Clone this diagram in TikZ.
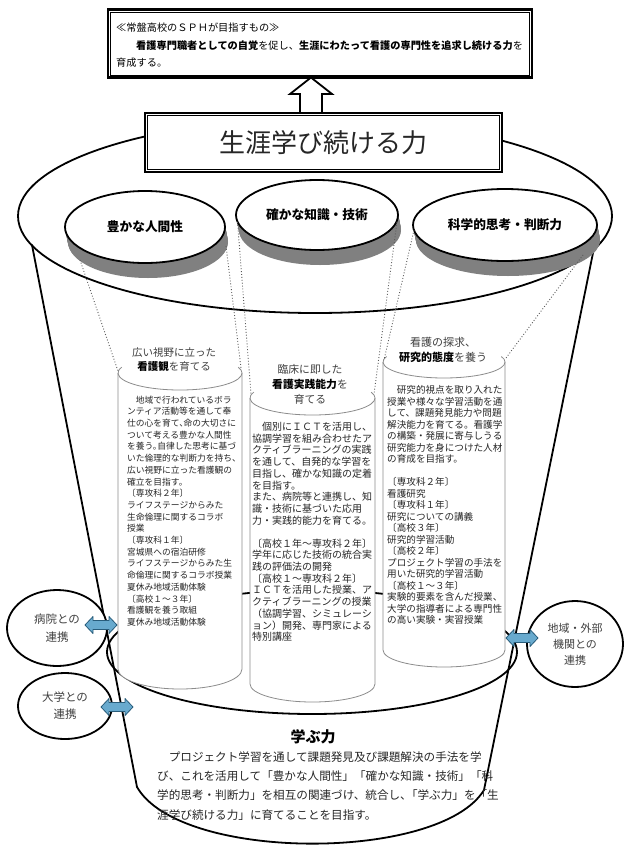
\documentclass[tikz,border=0pt]{standalone}
\usepackage{fontspec}
\setmainfont{Noto Sans CJK JP}
\usetikzlibrary{shapes.geometric}
\newcommand\hk{\kern-.5em}
\newcommand\fs[2]{\fontsize{#1}{#2}\selectfont}
\definecolor{arrowblue}{RGB}{104,170,206}
\definecolor{arrowedge}{RGB}{40,92,122}
\begin{document}
\begin{tikzpicture}[x=1pt,y=1pt,yscale=-1,
  bk/.style={line width=1.8pt, line join=round, line cap=round},
  cyl/.style={draw=black!45, line width=0.8pt, fill=white},
  cyltop/.style={draw=black!45, line width=0.8pt},
  dots/.style={dotted, line width=0.9pt, black!65},
  body/.style={inner sep=0pt, align=left, anchor=north west, text=black!85},
  head/.style={inner sep=0pt, align=center, text=black!75},
  smallell/.style={ellipse, draw, line width=1.8pt, fill=white, inner sep=0pt, font=\bfseries\fs{12.7}{15}},
  sidecirc/.style={ellipse, draw, line width=1.8pt, fill=white, inner sep=0pt, align=center, text=black!75},
  arrowst/.style={fill=arrowblue, draw=arrowedge, line width=0.8pt, line join=round},
  dblarr/.pic={\draw[arrowst] (-16,0) -- (-8,-8.5) -- (-8,-4.5) -- (8,-4.5) -- (8,-8.5) -- (16,0) -- (8,8.5) -- (8,4.5) -- (-8,4.5) -- (-8,8.5) -- cycle;}
]
\fill[white] (0,0) rectangle (626,846);
\useasboundingbox (0,0) rectangle (626,846);

% bucket
\draw[bk, fill=white] (315,216) ellipse[x radius=297, y radius=97];
\draw[bk] (32,245) -- (137,787) .. controls (180,862) and (440,862) .. (484,790) -- (594,248);

% top box
\node[draw, line width=2.2pt, fill=white, minimum width=424pt, minimum height=68pt, inner sep=0pt] (topbox) at (320,43.5) {};
\draw[line width=0.7pt] ([shift={(3.5,3.5)}]topbox.north west) rectangle ([shift={(-3.5,-3.5)}]topbox.south east);
\node[body, font=\fs{10.2}{17.5}, text=black] (toptext) at (116,22.9)
 {≪常盤高校のＳＰＨが目指すもの≫\\\hspace*{20pt}{\bfseries 看護専門職者としての自覚}を促し、{\bfseries 生涯にわたって看護の専門性を追求し続ける力}を\\育成する。};

% title box
\node[draw, line width=2.4pt, fill=white, minimum width=357pt, minimum height=59pt, inner sep=0pt, font=\fs{26}{30}, text=black!85] (title) at (323.5,142.5) {生涯学び続ける力};
\draw[line width=0.7pt] ([shift={(4,4)}]title.north west) rectangle ([shift={(-4,-4)}]title.south east);

% up arrow
\draw[line width=1.8pt, fill=white, line join=miter] (title.north -| 300,0) -- (300,94) -- (290,94) -- (311,77.5) -- (332,94) -- (322,94) -- (title.north -| 322,0);

% small ellipses with shadows
\foreach \d in {1,...,15}{
  \fill[black!50] ({145+0.2*\d},{227+\d}) ellipse[x radius=80, y radius=36];
  \fill[black!50] ({317+0.2*\d},{215+\d}) ellipse[x radius=81, y radius=35];
  \fill[black!50] ({505+0.2*\d},{225+\d}) ellipse[x radius=92, y radius=36];
}
\node[smallell, minimum width=160pt, minimum height=72pt] (eL) at (145,227) {豊かな人間性};
\node[smallell, minimum width=162pt, minimum height=70pt] (eM) at (317,215) {確かな知識・技術};
\node[smallell, minimum width=184pt, minimum height=72pt] (eR) at (505,225) {科学的思考・判断力};

% disc of 学ぶ力
\draw[bk] (312,652) ellipse[x radius=205, y radius=62];

% cylinders
\path[cyl] (118,373) -- (118,669) arc[start angle=180, end angle=0, x radius=62, y radius=20] -- (242,373);
\draw[cyltop] ([shift={(200:62 and 17)}]180,373) arc[start angle=200, end angle=-20, x radius=62, y radius=17];
\path[cyl] (250,398) -- (250,684) arc[start angle=180, end angle=0, x radius=62.5, y radius=18] -- (375,398);
\draw[cyltop] ([shift={(200:62.5 and 17)}]312.5,398) arc[start angle=200, end angle=-20, x radius=62.5, y radius=17];
\path[cyl] (383,362) -- (383,650) arc[start angle=180, end angle=0, x radius=61, y radius=17] -- (505,362);
\draw[cyltop] ([shift={(200:61 and 16)}]444,362) arc[start angle=200, end angle=-20, x radius=61, y radius=16];

% dotted projection lines
\coordinate (L1a) at (80,260); \coordinate (L1b) at (118,371);
\coordinate (L2a) at (226,246); \coordinate (L2b) at (241,368);
\coordinate (M1a) at (237.5,222); \coordinate (M1b) at (251,394);
\coordinate (M2a) at (397,222); \coordinate (M2b) at (374,394);
\coordinate (R1a) at (414,230); \coordinate (R1b) at (384,360);
\coordinate (R2a) at (583,255); \coordinate (R2b) at (506,358);
\draw[dots] (L1a) -- (L1b);
\draw[dots] (L2a) -- (L2b);
\draw[dots] (M1a) -- (M1b);
\draw[dots] (M2a) -- (M2b);
\draw[dots] (R1a) -- (R1b);
\draw[dots] (R2a) -- (R2b);

% headings
\node[head, font=\fs{10.5}{14}] (hL) at (174,360) {広い視野に立った\\{\bfseries\color{black}看護観}を育てる};
\node[head, font=\fs{10.8}{15}] (hM) at (310,384) {臨床に即した\\{\bfseries\color{black}看護実践能力}を\\育てる};
\node[head, font=\fs{11}{15}] (hR) at (443,349.5) {看護の探求、\\{\bfseries\color{black}研究的態度}を養う};

% body texts
\node[body, font=\fs{8.75}{11.7}] (tL) at (127,395.6)
 {　地域で行われているボラ\\ンティア活動等を通して奉\\仕の心を育て、\hk 命の大切さに\\ついて考える豊かな人間性\\を養う。\hk 自律した思考に基づ\\いた倫理的な判断力を持ち、\\広い視野に立った看護観の\\確立を目指す。\\〔専攻科２年〕\\ライフステージからみた\\生命倫理に関するコラボ\\授業\\〔専攻科１年〕\\宮城県への宿泊研修\\ライフステージからみた生\\命倫理に関するコラボ授業\\夏休み地域活動体験\\〔高校１～３年〕\\看護観を養う取組\\夏休み地域活動体験};
\node[body, font=\fs{10}{11.7}] (tM) at (252,422)
 {　個別にＩＣＴを活用し、\\協調学習を組み合わせたア\\クティブラーニングの実践\\を通して、自発的な学習を\\目指し、確かな知識の定着\\を目指す。\\また、病院等と連携し、知\\識・技術に基づいた応用\\力・実践的能力を育てる。\\[11.3pt]〔高校１年～専攻科２年〕\\学年に応じた技術の統合実\\践の評価法の開発\\〔高校１～専攻科２年〕\\ＩＣＴを活用した授業、ア\\クティブラーニングの授業\\（協調学習、シミュレーシ\\ョン）開発、専門家による\\特別講座};
\node[body, font=\fs{9.6}{11.5}] (tR) at (387,385.2)
 {　研究的視点を取り入れた\\授業や様々な学習活動を通\\して、課題発見能力や問題\\解決能力を育てる。看護学\\の構築・発展に寄与しうる\\研究能力を身につけた人材\\の育成を目指す。\\[11.5pt]〔専攻科２年〕\\看護研究\\〔専攻科１年〕\\研究についての講義\\〔高校３年〕\\研究的学習活動\\〔高校２年〕\\プロジェクト学習の手法を\\用いた研究的学習活動\\〔高校１～３年〕\\実験的要素を含んだ授業、\\大学の指導者による専門性\\の高い実験・実習授業};

% side circles and arrows
\node[sidecirc, minimum width=100pt, minimum height=76pt, font=\fs{11.5}{18}] (c1) at (57,628) {病院との\\連携};
\node[sidecirc, minimum width=94pt, minimum height=66pt, font=\fs{11.5}{17}] (c2) at (65,706) {大学との\\連携};
\node[sidecirc, minimum width=96pt, minimum height=86pt, font=\fs{11}{16}] (c3) at (575,644) {地域・外部\\機関との\\連携};
\pic at (101,625) {dblarr};
\pic at (117,707) {dblarr};
\pic at (522,638) {dblarr};

% bottom text
\node[inner sep=0pt, font=\bfseries\fs{15}{18}] (mk) at (313,737) {学ぶ力};
\node[body, font=\fs{11.6}{19.3}] (mkt) at (157,751.2)
 {　プロジェクト学習を通して課題発見及び課題解決の手法を学\\び、これを活用して「豊かな人間性」「確かな知識・技術」「科\\学的思考・判断力」を相互の関連づけ、統合し、\hk「学ぶ力」を「生\\涯学び続ける力」に育てることを目指す。};
\end{tikzpicture}
\end{document}
